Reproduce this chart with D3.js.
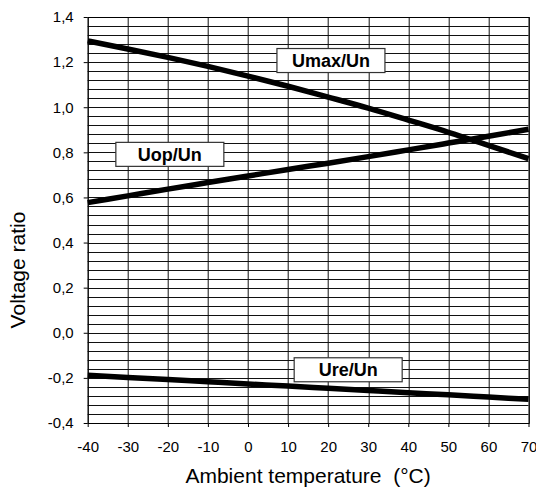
<!DOCTYPE html>
<html>
<head>
<meta charset="utf-8">
<script src="https://cdn.jsdelivr.net/npm/d3@7"></script>
<style>
  html, body { margin: 0; padding: 0; background: #fff; }
  svg { display: block; font-family: Arial, "Liberation Sans", sans-serif; }
</style>
</head>
<body>
<svg id="chart" width="536" height="488"></svg>
<script>
// ---- data ----
const temperatures = [-40, -30, -20, -10, 0, 10, 20, 30, 40, 50, 60, 70];
const umaxValues = [1.294, 1.258, 1.221, 1.181, 1.138, 1.093, 1.045, 0.996, 0.943, 0.889, 0.831, 0.772];
const uopValues  = [0.577, 0.607, 0.637, 0.666, 0.695, 0.724, 0.752, 0.781, 0.811, 0.841, 0.871, 0.902];
const ureValues  = [-0.188, -0.198, -0.207, -0.217, -0.227, -0.236, -0.246, -0.256, -0.266, -0.275, -0.285, -0.295];
const seriesNames = ["Umax/Un", "Uop/Un", "Ure/Un"];
const labelAnchorsT = [20.7, -19.5, 25.0];
const labelAnchorsV = [1.207, 0.791, -0.164];
const xTicks = [-40, -30, -20, -10, 0, 10, 20, 30, 40, 50, 60, 70];
const yTicks = [-0.4, -0.2, 0.0, 0.2, 0.4, 0.6, 0.8, 1.0, 1.2, 1.4];
const xTitle = "Ambient temperature  (°C)";
const yTitle = "Voltage ratio";

// ---- layout ----
const W = 536, H = 488;
const m = { left: 87.7, top: 17, right: 7.5, bottom: 65 };
const iw = W - m.left - m.right, ih = H - m.top - m.bottom;

const svg = d3.select("#chart");
const g = svg.append("g").attr("transform", `translate(${m.left},${m.top})`);

const x = d3.scaleLinear().domain([-40, 70]).range([0, iw]);
const y = d3.scaleLinear().domain([-0.4, 1.4]).range([ih, 0]);

// horizontal grid every 0.04
const hGrid = d3.range(0, 46).map(i => -0.4 + i * 0.04);
g.append("g").selectAll("line").data(hGrid).join("line")
  .attr("x1", 0).attr("x2", iw)
  .attr("y1", d => Math.round(y(d)) + 0.5).attr("y2", d => Math.round(y(d)) + 0.5)
  .attr("stroke", "#111").attr("stroke-width", 1);

// vertical grid every 10
g.append("g").selectAll("line").data(xTicks).join("line")
  .attr("x1", d => Math.round(x(d)) + 0.5).attr("x2", d => Math.round(x(d)) + 0.5)
  .attr("y1", 0).attr("y2", ih)
  .attr("stroke", "#111").attr("stroke-width", 1);

// frame
g.append("rect").attr("x", 0.5).attr("y", 0.5)
  .attr("width", Math.round(iw)).attr("height", Math.round(ih))
  .attr("fill", "none").attr("stroke", "#000").attr("stroke-width", 1);

// axes
const fmt = d => d3.format(".1f")(d).replace(".", ",").replace("−", "-");
const xAxis = g.append("g").attr("transform", `translate(0,${ih})`)
  .call(d3.axisBottom(x).tickValues(xTicks).tickSize(4).tickPadding(14).tickFormat(d => String(d)));
const yAxis = g.append("g")
  .call(d3.axisLeft(y).tickValues(yTicks).tickSize(4).tickPadding(10).tickFormat(fmt));
[xAxis, yAxis].forEach(a => {
  a.select(".domain").remove();
  a.selectAll(".tick line").attr("stroke", "#000");
  a.selectAll(".tick text").attr("fill", "#000").style("font-size", "15px")
    .style("font-family", "Arial, 'Liberation Sans', sans-serif");
});

// lines
const series = [umaxValues, uopValues, ureValues];
const line = d3.line().x((d, i) => x(temperatures[i])).y(d => y(d)).curve(d3.curveMonotoneX);
g.append("g").selectAll("path").data(series).join("path")
  .attr("d", line)
  .attr("fill", "none").attr("stroke", "#000").attr("stroke-width", 5.5)
  .attr("stroke-linecap", "butt");

// labels
const bw = 108, bh = 24;
const lab = g.append("g").selectAll("g").data(seriesNames).join("g")
  .attr("transform", (d, i) => `translate(${x(labelAnchorsT[i])},${y(labelAnchorsV[i])})`);
lab.append("rect").attr("x", -bw / 2).attr("y", -bh / 2).attr("width", bw).attr("height", bh)
  .attr("fill", "#fff").attr("stroke", "#333").attr("stroke-width", 1.2);
lab.append("text").attr("text-anchor", "middle").attr("dy", "0.36em")
  .style("font-size", "18px").style("font-weight", "bold").attr("fill", "#000")
  .text(d => d);

// titles
svg.append("text").attr("x", m.left + iw / 2).attr("y", 483)
  .attr("text-anchor", "middle").style("font-size", "21px").style("white-space", "pre")
  .attr("xml:space", "preserve").attr("fill", "#000").text(xTitle);
svg.append("text").attr("transform", `translate(25,${270}) rotate(-90)`)
  .attr("text-anchor", "middle").style("font-size", "21px").attr("fill", "#000").text(yTitle);
</script>
</body>
</html>
